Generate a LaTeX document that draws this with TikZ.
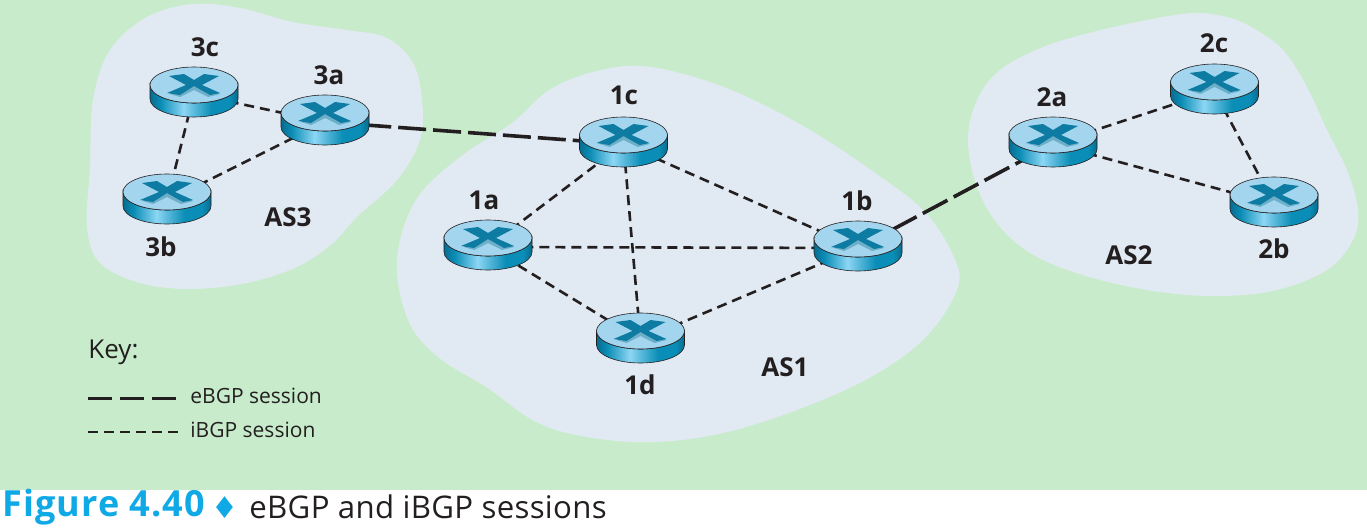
\documentclass[tikz,border=0pt]{standalone}
\usepackage{fontspec}
\setmainfont{Open Sans}
\newfontfamily\capfont[LetterSpace=1]{Open Sans}
\newfontfamily\figfont[LetterSpace=3]{Open Sans}
\newfontfamily\symfont{DejaVu Sans}
\definecolor{bggreen}{HTML}{C8ECCB}
\definecolor{asblue}{HTML}{E1E9F2}
\definecolor{rtop}{HTML}{A3D5EE}
\definecolor{redge}{HTML}{086C8F}
\definecolor{rdark}{HTML}{0A8DB6}
\definecolor{rlight}{HTML}{8CD6F4}
\definecolor{rmark}{HTML}{0E7BA2}
\definecolor{rshade}{HTML}{6DAFC8}
\definecolor{capblue}{HTML}{0FA9E6}
\definecolor{inkblack}{HTML}{231F20}
\pgfdeclarehorizontalshading{routerside}{100bp}{
  color(0bp)=(redge); color(25bp)=(redge); color(31bp)=(rdark); color(44bp)=(rlight);
  color(60bp)=(rdark); color(70bp)=(rdark); color(75bp)=(redge); color(100bp)=(redge)}
\tikzset{
  anchorpt/.style = {circle, minimum size=3pt, inner sep=0pt},
  rlabel/.style   = {font=\bfseries\fontsize{13}{15}\selectfont, text=inkblack},
  keytext/.style  = {font=\fontsize{10.5}{12}\selectfont, text=inkblack, anchor=west, inner sep=0pt},
  ebgp/.style     = {draw=inkblack, line width=1.8pt, dash pattern=on 14pt off 3.5pt},
  ebgpkey/.style  = {draw=inkblack, line width=1.5pt, dash pattern=on 12pt off 4pt},
  ibgp/.style     = {draw=inkblack, line width=1.3pt, dash pattern=on 5pt off 3pt},
  router/.pic     = {
    \shade[shading=routerside, draw=inkblack, line width=0.3pt]
      (-44,0) -- (-44,14) arc[start angle=180, end angle=0, x radius=44, y radius=18]
      -- (44,0) arc[start angle=0, end angle=180, x radius=44, y radius=18] -- cycle;
    \fill[rtop, draw=inkblack, line width=0.3pt] (0,0) ellipse[x radius=44, y radius=18];
    \fill[rshade] (-8,0) -- (-24,9) -- (-14,12) -- (0,5) -- (14,12) -- (26,9) -- (8,0) -- (0,-3) -- cycle;
    \fill[rmark] (-25,-9) -- (-10,-11) -- (0,-5) -- (10,-11) -- (25,-9) -- (8,0) -- (26,8)
      -- (16,10) -- (0,1) -- (-14,10) -- (-27,8) -- (-8,0) -- cycle;
  }
}

\begin{document}
\begin{tikzpicture}[x=0.5pt,y=-0.5pt]
  \useasboundingbox (0,0) rectangle (1367,530);
  \fill[bggreen] (0,0) rectangle (1367,490);

  % autonomous systems
  \fill[asblue] plot[smooth cycle, tension=0.6] coordinates {(193,4) (147,17) (110,50) (93,100) (90,167) (87,227)
    (100,263) (140,283) (190,289) (247,283) (297,267) (333,243) (357,217) (397,180) (420,140) (422,100)
    (413,63) (387,38) (347,30) (293,22) (240,8)};
  \fill[asblue] plot[smooth cycle, tension=0.6] coordinates {(642,66) (593,72) (549,90) (512,123) (460,157) (416,200)
    (397,260) (408,320) (438,357) (486,387) (538,423) (593,438) (656,442) (723,433) (797,410) (871,377)
    (926,337) (958,287) (952,253) (923,210) (871,170) (815,133) (760,103) (704,80)};
  \fill[asblue] plot[smooth cycle, tension=0.6] coordinates {(1193,13) (1147,20) (1093,32) (1043,47) (1000,70) (977,100)
    (968,140) (977,187) (1000,227) (1037,257) (1093,278) (1160,292) (1220,296) (1277,290) (1327,270) (1353,240)
    (1358,210) (1347,170) (1327,130) (1307,87) (1283,50) (1253,28) (1227,17)};

  % routers
  \node[anchorpt] (r3c) at (194,94)    {};
  \node[anchorpt] (r3a) at (325,122)   {};
  \node[anchorpt] (r3b) at (167,201)   {};
  \node[anchorpt] (r1c) at (623.5,144) {};
  \node[anchorpt] (r1a) at (488,247)   {};
  \node[anchorpt] (r1b) at (858,248)   {};
  \node[anchorpt] (r1d) at (640.5,340) {};
  \node[anchorpt] (r2a) at (1053,144)  {};
  \node[anchorpt] (r2c) at (1214.5,91) {};
  \node[anchorpt] (r2b) at (1274,204)  {};

  \draw[ebgp] (r3a) -- (r1c);
  \draw[ebgp] (r1b) -- (r2a);
  \draw[ibgp] (r3c) -- (r3a);
  \draw[ibgp] (r3c) -- (r3b);
  \draw[ibgp] (r3b) -- (r3a);
  \draw[ibgp] (r1c) -- (r1a);
  \draw[ibgp] (r1c) -- (r1b);
  \draw[ibgp] (r1c) -- (r1d);
  \draw[ibgp] (r1a) -- (r1b);
  \draw[ibgp] (r1a) -- (r1d);
  \draw[ibgp] (r1d) -- (r1b);
  \draw[ibgp] (r2a) -- (r2c);
  \draw[ibgp] (r2a) -- (r2b);
  \draw[ibgp] (r2c) -- (r2b);

  \foreach \r in {r3c,r3a,r3b,r1c,r1a,r1b,r1d,r2a,r2c,r2b}
    \pic at ([yshift=4.5pt]\r.center) {router};

  \node[rlabel] (l3c) at (205,47)   {3c};
  \node[rlabel] (l3a) at (329,75)   {3a};
  \node[rlabel] (l3b) at (161,247)  {3b};
  \node[rlabel] (l1c) at (624,95)   {1c};
  \node[rlabel] (l1a) at (484,200)  {1a};
  \node[rlabel] (l1b) at (857,201)  {1b};
  \node[rlabel] (l1d) at (640,385)  {1d};
  \node[rlabel] (l2a) at (1052,97)  {2a};
  \node[rlabel] (l2c) at (1214,43)  {2c};
  \node[rlabel] (l2b) at (1274,249) {2b};

  \node[rlabel] (as3) at (288,217)  {AS3};
  \node[rlabel] (as1) at (785,367)  {AS1};
  \node[rlabel] (as2) at (1129,255) {AS2};

  % key
  \node[keytext, font=\fontsize{13}{15}\selectfont] (key) at (88,352) {Key:};
  \coordinate (ea) at (88,398);
  \coordinate (eb) at (180,398);
  \coordinate (ia) at (88,432);
  \coordinate (ib) at (180,432);
  \draw[ebgpkey] (ea) -- (eb);
  \draw[ibgp] (ia) -- (ib);
  \node[keytext] (ekey) at (190,396) {eBGP session};
  \node[keytext] (ikey) at (190,430) {iBGP session};

  % caption
  \node[anchor=west, inner sep=0pt, text=capblue, font=\figfont\bfseries\fontsize{18}{20}\selectfont] (fig) at (2,507) {Figure 4.40};
  \node[anchor=center, inner sep=0pt, text=capblue, font=\symfont\fontsize{15}{18}\selectfont] (dia) at (225,508) {♦};
  \node[anchor=west, inner sep=0pt, text=inkblack, font=\capfont\fontsize{15.6}{18}\selectfont] (cap) at (249,507) {eBGP and iBGP sessions};
\end{tikzpicture}
\end{document}
